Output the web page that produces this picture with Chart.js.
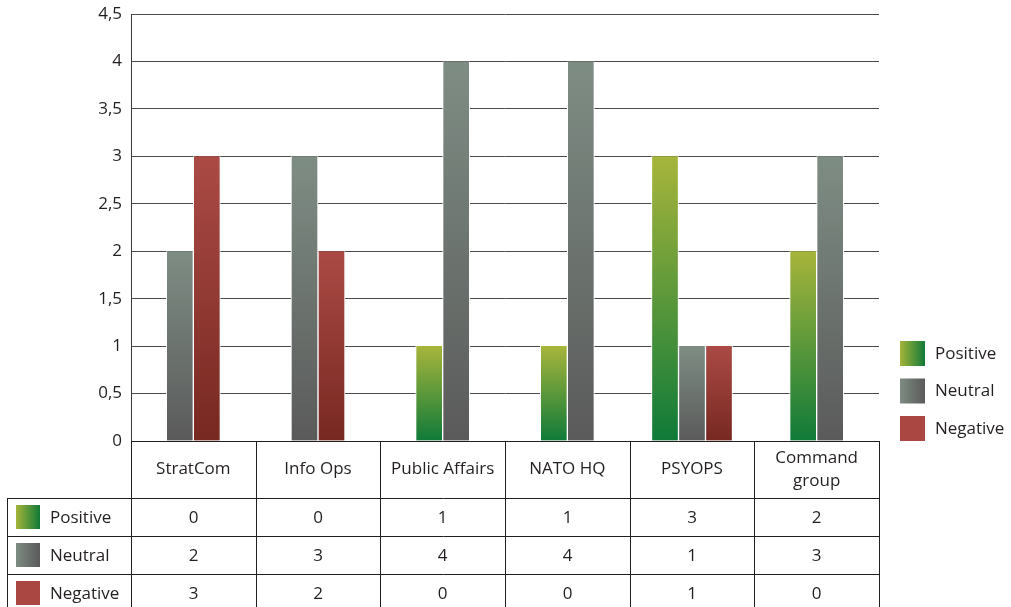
<!DOCTYPE html>
<html><head><meta charset="utf-8">
<script src="https://cdn.jsdelivr.net/npm/chart.js@4/dist/chart.umd.min.js"></script>
<style>html,body{margin:0;padding:0;background:#fff}#wrap{position:relative;width:1011px;height:607px}</style>
</head><body><div id="wrap"><canvas id="c"></canvas></div>
<script>
const categories = ['StratCom', 'Info Ops', 'Public Affairs', 'NATO HQ', 'PSYOPS', ['Command', 'group']];
const seriesNames = ['Positive', 'Neutral', 'Negative'];
const positive = [0, 0, 1, 1, 3, 2];
const neutral = [2, 3, 4, 4, 1, 3];
const negative = [3, 2, 0, 0, 1, 0];
const yTickValues = [0, 0.5, 1, 1.5, 2, 2.5, 3, 3.5, 4, 4.5];

const seriesValues = [positive, neutral, negative];
const gradStops = [['#a7b53b', '#0f7a39'], ['#7e8d84', '#5a5a5a'], ['#ab4a45', '#772821']];
const legendStops = [['#a4b43a', '#117a37'], ['#7d8c82', '#5a5a5a'], ['#ab4743', '#ab4743']];
const FONT = '"Open Sans", "DejaVu Sans", sans-serif';
const FS = 17;
const TEXT = '#231f20';

function barFill(i) {
  return (ctx) => {
    const chart = ctx.chart;
    if (!chart.chartArea || ctx.type !== 'data' || ctx.raw == null) return gradStops[i][0];
    const y = chart.scales.y;
    const top = y.getPixelForValue(ctx.raw);
    const bottom = y.getPixelForValue(0);
    if (!(bottom - top > 0.5)) return gradStops[i][0];
    const g = chart.ctx.createLinearGradient(0, top, 0, bottom);
    g.addColorStop(0, gradStops[i][0]);
    g.addColorStop(1, gradStops[i][1]);
    return g;
  };
}

function swatch(c, i, x, y, w, h) {
  const g = c.createLinearGradient(x, 0, x + w, 0);
  g.addColorStop(0, legendStops[i][0]);
  g.addColorStop(1, legendStops[i][1]);
  c.fillStyle = g;
  c.fillRect(x, y, w, h);
}

const tablePlugin = {
  id: 'dataTable',
  afterDraw(chart) {
    const c = chart.ctx;
    const area = chart.chartArea;
    const xs = chart.scales.x;
    const n = categories.length;
    const bounds = [];
    for (let i = 0; i <= n; i++) bounds.push(Math.round(xs.getPixelForValue(i - 0.5)));
    const top = Math.round(area.bottom);
    const headerBottom = top + 57;
    const rowH = 38;
    const rows = [headerBottom, headerBottom + rowH, headerBottom + 2 * rowH, headerBottom + 3 * rowH];
    const leftEdge = 7;
    c.save();
    c.strokeStyle = TEXT;
    c.lineWidth = 1;
    c.beginPath();
    bounds.forEach(b => { c.moveTo(b + 0.5, top); c.lineTo(b + 0.5, headerBottom); });
    [leftEdge].concat(bounds).forEach(b => { c.moveTo(b + 0.5, headerBottom); c.lineTo(b + 0.5, 607); });
    rows.forEach(r => { c.moveTo(leftEdge, r + 0.5); c.lineTo(bounds[n] + 1, r + 0.5); });
    c.moveTo(bounds[0], top + 0.5); c.lineTo(bounds[n] + 1, top + 0.5);
    c.stroke();

    c.font = FS + 'px ' + FONT;
    c.fillStyle = TEXT;
    c.textBaseline = 'middle';
    for (let s = 0; s < seriesNames.length; s++) {
      const cy = rows[s] + rowH / 2;
      swatch(c, s, 16, cy - 12, 24, 24);
      c.fillStyle = TEXT;
      c.textAlign = 'left';
      c.fillText(seriesNames[s], 50, cy + 1);
      c.textAlign = 'center';
      for (let i = 0; i < n; i++) {
        c.fillText(String(seriesValues[s][i]), (bounds[i] + bounds[i + 1]) / 2, cy + 1);
      }
    }
    for (let s = 0; s < seriesNames.length; s++) {
      const by = 341 + s * 37.5;
      swatch(c, s, 900, by, 25, 25);
      c.fillStyle = TEXT;
      c.textAlign = 'left';
      c.fillText(seriesNames[s], 935, by + 13);
    }
    c.restore();
  }
};

new Chart(document.getElementById('c'), {
  type: 'bar',
  data: {
    labels: categories,
    datasets: seriesNames.map((name, i) => ({
      label: name,
      data: seriesValues[i].map(v => (v === 0 ? null : v)),
      backgroundColor: barFill(i),
      borderColor: '#ffffff',
      borderWidth: { left: 1, right: 1, top: 0, bottom: 0 },
      borderSkipped: false,
      barThickness: 27,
      skipNull: true
    }))
  },
  options: {
    responsive: true,
    maintainAspectRatio: false,
    animation: false,
    devicePixelRatio: 1,
    layout: { padding: { top: 14, right: 132, bottom: 0, left: 0 } },
    plugins: { legend: { display: false }, tooltip: { enabled: false } },
    scales: {
      x: {
        grid: { display: false, drawTicks: false },
        border: { display: false },
        ticks: { color: TEXT, font: { family: FONT, size: FS, lineHeight: 1.35 }, padding: 17, crossAlign: 'center', maxRotation: 0, autoSkip: false },
        afterFit(axis) { axis.height = 166; axis.paddingLeft = 0; axis.paddingRight = 0; }
      },
      y: {
        min: 0, max: 4.5,
        afterBuildTicks(axis) { axis.ticks = yTickValues.map(v => ({ value: v })); },
        grid: { color: '#4a4a4a', lineWidth: 1, drawTicks: false },
        border: { display: true, color: '#3a3a3a', width: 1 },
        ticks: {
          color: TEXT, font: { family: FONT, size: FS }, padding: 9,
          callback: v => String(v).replace('.', ',')
        },
        afterFit(axis) { axis.width = 131; axis.paddingTop = 0; axis.paddingBottom = 0; }
      }
    }
  },
  plugins: [tablePlugin]
});
</script></body></html>
